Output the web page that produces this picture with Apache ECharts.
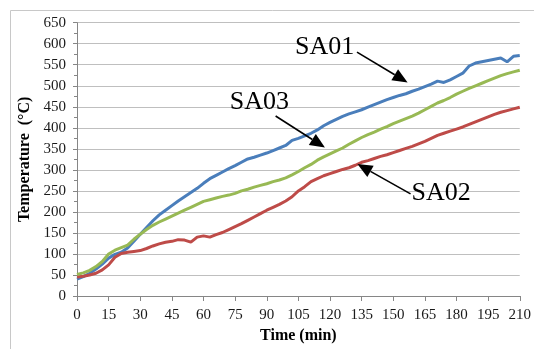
<!DOCTYPE html>
<html>
<head>
<meta charset="utf-8">
<script src="https://cdn.jsdelivr.net/npm/echarts@6/dist/echarts.min.js"></script>
<style>
  html, body { margin: 0; padding: 0; background: #fff; }
  #chart { width: 534px; height: 349px; }
</style>
</head>
<body>
<div id="chart"></div>
<script>
// Furnace test: temperature history of three specimens (time in minutes, temperature in °C)
const minutes = [0, 3, 6, 9, 12, 15, 18, 21, 24, 27, 30, 33, 36, 39, 42, 45, 48, 51, 54, 57,
  60, 63, 66, 69, 72, 75, 78, 81, 84, 87, 90, 93, 96, 99, 102, 105, 108, 111, 114, 117,
  120, 123, 126, 129, 132, 135, 138, 141, 144, 147, 150, 153, 156, 159, 162, 165, 168, 171, 174, 177,
  180, 183, 186, 189, 192, 195, 198, 201, 204, 207, 210];

const sa01 = [40, 46, 54, 64, 76, 90, 99, 104, 114, 130, 147, 163, 179, 193, 204, 215, 226, 236, 246, 256,
  268, 279, 287, 295, 303, 310, 318, 326, 330, 335, 340, 346, 352, 358, 370, 375, 381, 387, 395, 405,
  413, 420, 427, 433, 438, 443, 449, 455, 461, 467, 472, 477, 481, 487, 492, 498, 504, 511, 508, 514,
  522, 530, 547, 554, 557, 560, 563, 566, 557, 570, 572];

const sa02 = [45, 47, 50, 54, 62, 74, 92, 101, 104, 106, 108, 113, 119, 124, 128, 130, 134, 133, 128, 140,
  143, 140, 146, 151, 158, 165, 172, 180, 188, 196, 204, 211, 218, 226, 236, 250, 260, 272, 279, 286,
  291, 296, 301, 305, 311, 318, 322, 327, 332, 336, 341, 346, 351, 356, 362, 368, 375, 382, 387, 392,
  397, 402, 408, 414, 420, 426, 432, 437, 441, 445, 449];

const sa03 = [51, 55, 61, 70, 82, 100, 109, 115, 121, 135, 147, 158, 168, 176, 183, 190, 197, 204, 211, 218,
  225, 229, 233, 237, 240, 244, 250, 254, 259, 263, 267, 272, 276, 281, 288, 296, 305, 313, 323, 331,
  338, 345, 352, 361, 369, 377, 384, 390, 397, 403, 410, 416, 422, 428, 435, 443, 451, 459, 465, 472,
  480, 487, 494, 500, 506, 512, 518, 524, 529, 533, 537];

const seriesNames = ['SA01', 'SA02', 'SA03'];
const seriesColors = ['#4a7ebb', '#be4b48', '#98b954'];
const seriesValues = [sa01, sa02, sa03];

// Callout labels: text anchor and arrow (from -> to), all in data coordinates
const callouts = [
  { text: 'SA01', at: [103.4, 560], from: [132.8, 580], to: [156.8, 508] },
  { text: 'SA03', at: [72.5, 430], from: [94.2, 428], to: [117.6, 353] },
  { text: 'SA02', at: [158.7, 213], from: [158.2, 243], to: [133.0, 314] }
];

const serif = '"Liberation Serif", "Times New Roman", serif';
const chart = echarts.init(document.getElementById('chart'), null, { renderer: 'canvas' });

chart.setOption({
  animation: false,
  backgroundColor: '#ffffff',
  grid: { left: 77, right: 11, top: 22.7, bottom: 47.5, containLabel: false },
  xAxis: {
    type: 'value',
    min: 0, max: 210, interval: 15,
    name: 'Time (min)',
    nameLocation: 'middle',
    nameGap: 32,
    nameTextStyle: { fontFamily: serif, fontWeight: 'bold', fontSize: 16, color: '#000' },
    axisLine: { lineStyle: { color: '#868686', width: 1 } },
    axisTick: { show: true, length: 5, lineStyle: { color: '#868686' } },
    axisLabel: { fontFamily: serif, fontSize: 15, color: '#1a1a1a', margin: 12 },
    splitLine: { show: false }
  },
  yAxis: {
    type: 'value',
    min: 0, max: 650, interval: 50,
    name: 'Temperature  (°C)',
    nameLocation: 'middle',
    nameGap: 39,
    nameRotate: 90,
    nameTextStyle: { fontFamily: serif, fontWeight: 'bold', fontSize: 16, color: '#000' },
    axisLine: { show: true, lineStyle: { color: '#868686', width: 1 } },
    axisTick: { show: true, length: 4, lineStyle: { color: '#868686' } },
    minorTick: { show: true, splitNumber: 2, length: 3, lineStyle: { color: '#868686' } },
    axisLabel: { fontFamily: serif, fontSize: 15, color: '#1a1a1a', margin: 11 },
    splitLine: { show: true, lineStyle: { color: '#bfbfbf', width: 1 } }
  },
  series: seriesNames.map((name, i) => ({
    name: name,
    type: 'line',
    data: minutes.map((t, k) => [t, seriesValues[i][k]]),
    showSymbol: false,
    smooth: false,
    lineStyle: { color: seriesColors[i], width: 3 },
    itemStyle: { color: seriesColors[i] },
    z: 2 + i
  }))
});

// Outer chart frame and callouts placed through the axis scales
function drawOverlay() {
  const elements = [{
    type: 'rect',
    shape: { x: 10.5, y: 10.5, width: 600, height: 400 },
    style: { fill: 'none', stroke: '#c8c8c8', lineWidth: 1 },
    silent: true, z: 0
  }];
  callouts.forEach(c => {
    const p = chart.convertToPixel({ gridIndex: 0 }, c.at);
    const a = chart.convertToPixel({ gridIndex: 0 }, c.from);
    const b = chart.convertToPixel({ gridIndex: 0 }, c.to);
    const ang = Math.atan2(b[1] - a[1], b[0] - a[0]);
    const headLen = 15, headHalf = 6.5;
    const bx = b[0] - headLen * Math.cos(ang), by = b[1] - headLen * Math.sin(ang);
    const nx = -Math.sin(ang), ny = Math.cos(ang);
    elements.push({
      type: 'text',
      x: p[0], y: p[1],
      style: { text: c.text, font: '26px ' + serif, fill: '#000', textAlign: 'left', textVerticalAlign: 'bottom' },
      z: 10
    });
    elements.push({
      type: 'line',
      shape: { x1: a[0], y1: a[1], x2: bx, y2: by },
      style: { stroke: '#000', lineWidth: 1.6 },
      z: 10
    });
    elements.push({
      type: 'polygon',
      shape: { points: [[b[0], b[1]], [bx + nx * headHalf, by + ny * headHalf], [bx - nx * headHalf, by - ny * headHalf]] },
      style: { fill: '#000' },
      z: 10
    });
  });
  chart.setOption({ graphic: elements });
}
drawOverlay();
</script>
</body>
</html>
